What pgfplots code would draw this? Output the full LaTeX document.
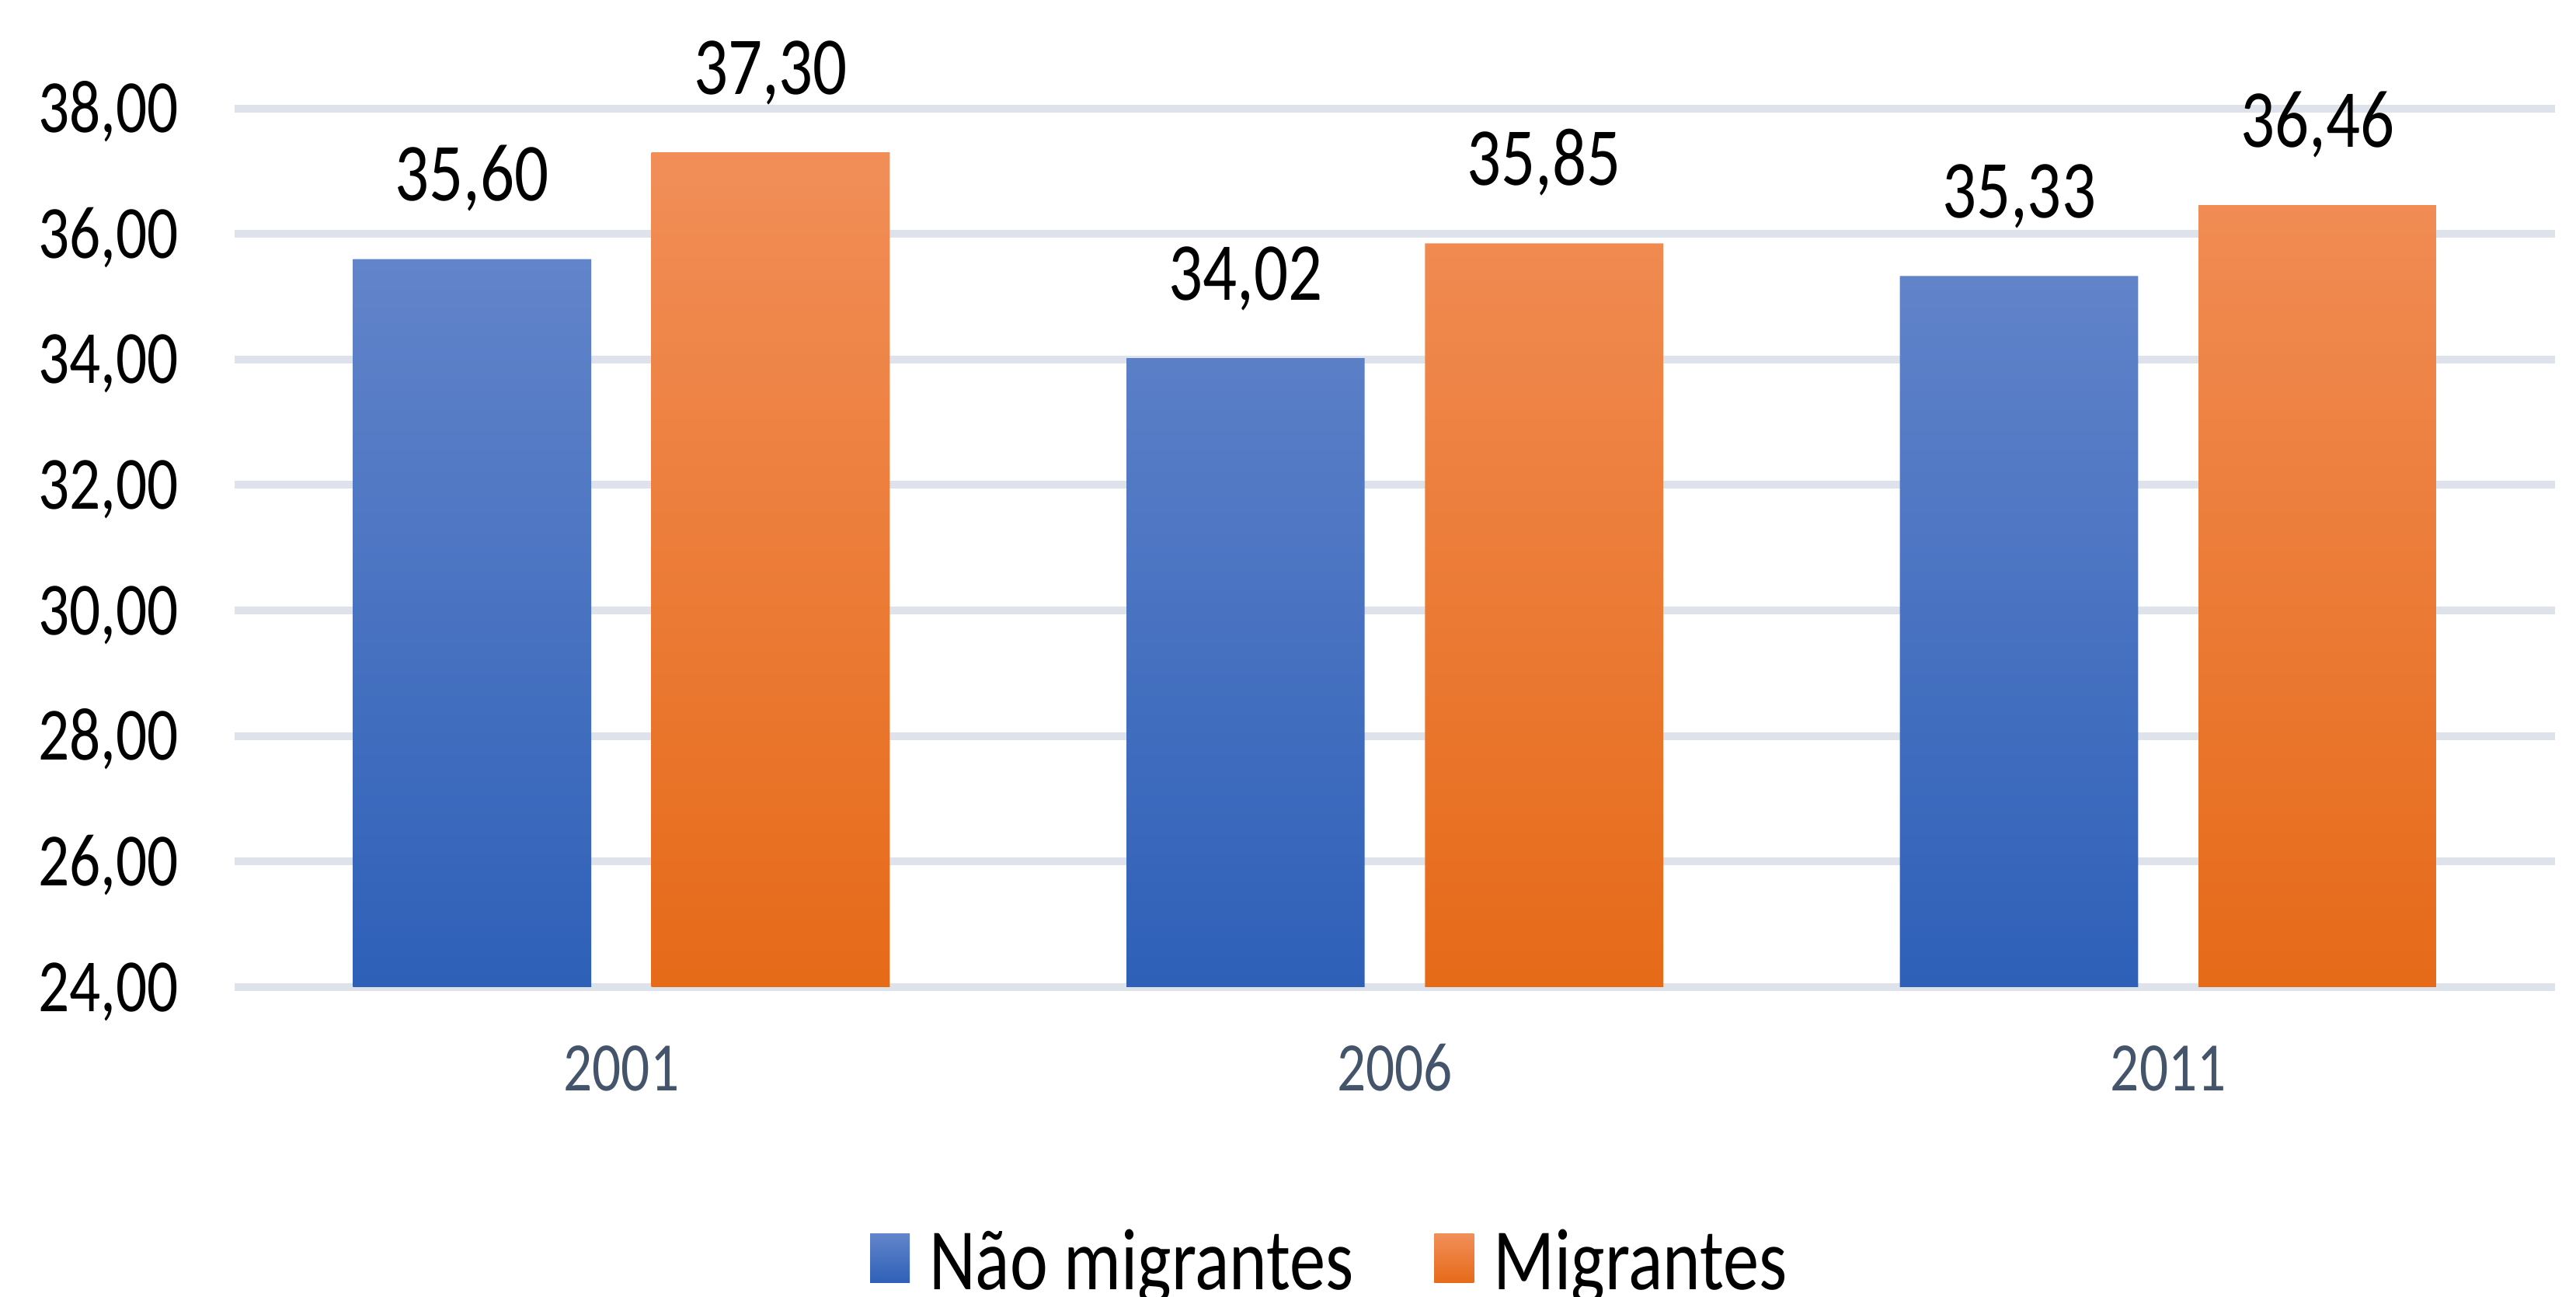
\documentclass[border=0pt]{standalone}
\usepackage{fontspec}
\setmainfont{Carlito}[FakeStretch=0.82]
\usepackage{pgfplots}
\pgfplotsset{compat=1.18}
\definecolor{blueTop}{RGB}{98,132,202}
\definecolor{blueBot}{RGB}{46,96,184}
\definecolor{orTop}{RGB}{241,142,88}
\definecolor{orBot}{RGB}{230,106,24}
\definecolor{gridc}{RGB}{222,226,234}
\definecolor{xlab}{RGB}{68,84,106}
\begin{document}
\begin{tikzpicture}
\useasboundingbox (0,0) rectangle (497.4bp,250.35bp);
\begin{axis}[
  at={(45.3bp,59.7bp)}, anchor=south west,
  scale only axis, width=448.05bp, height=169.71bp,
  xmin=-0.5, xmax=2.5, ymin=24, ymax=38,
  enlargelimits=false,
  ytick={24,26,...,38},
  xtick={0,1,2}, xticklabels={2001,2006,2011},
  axis line style={draw=none},
  major tick length=0pt,
  ymajorgrids, grid style={gridc, line width=1.5bp},
  /pgf/number format/.cd, fixed, fixed zerofill, precision=2, use comma, assume math mode=true,
  /pgfplots/.cd,
  yticklabel style={anchor=base east, inner sep=0pt, xshift=-10.65bp, yshift=-4.65bp, font=\fontsize{14.5bp}{17bp}\selectfont, text=black},
  xticklabel style={anchor=base, inner sep=0pt, yshift=-19.95bp, font=\fontsize{13.4bp}{16bp}\selectfont, text=xlab},
  ybar,
  bar width=0.308,
  nodes near coords,
  every node near coord/.append style={anchor=base, inner sep=0pt, yshift=11.25bp, font=\fontsize{15.9bp}{18bp}\selectfont, text=black},
  legend style={at={(axis description cs:0.2739,-0.353)}, anchor=south west, draw=none, fill=none, inner sep=0pt, outer sep=0pt,
    nodes={inner sep=0pt}, font=\fontsize{16.9bp}{20bp}\selectfont,
    /tikz/every odd column/.append style={column sep=3.75bp},
    /tikz/every even column/.append style={column sep=15.6bp}},
  legend columns=2,
  legend cell align=left,
  legend image code/.code={\path[#1,draw=none] (0bp,-3.8bp) rectangle (7.65bp,5.65bp);},
]
\addplot[draw=none, top color=blueTop, bottom color=blueBot, bar shift=-0.193]
  coordinates {(0,35.60) (1,34.02) (2,35.33)};
\addplot[draw=none, top color=orTop, bottom color=orBot, bar shift=0.193]
  coordinates {(0,37.30) (1,35.85) (2,36.46)};
\legend{Não migrantes, Migrantes}
\end{axis}
\end{tikzpicture}
\end{document}
